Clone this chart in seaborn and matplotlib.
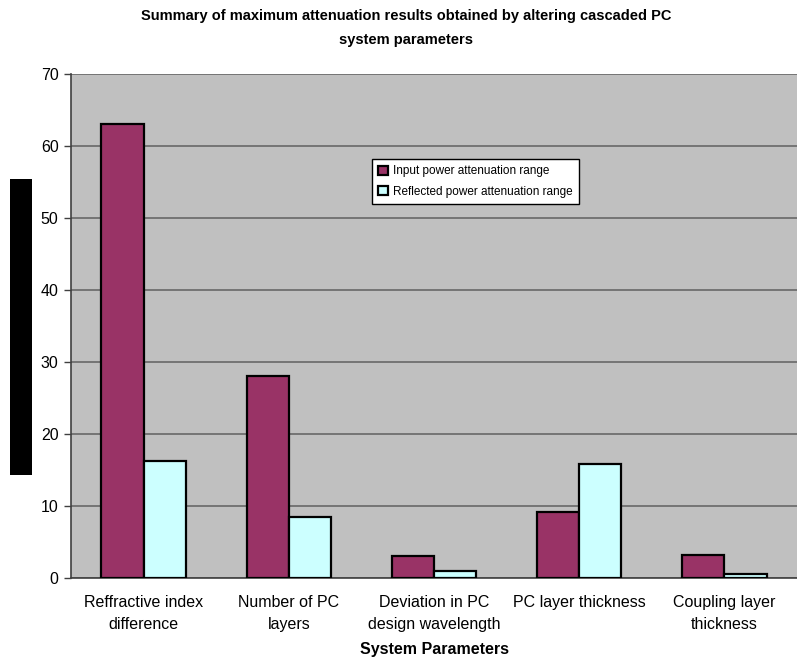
import matplotlib
matplotlib.use("Agg")
import matplotlib.pyplot as plt
from matplotlib.patches import Rectangle
import seaborn as sns
import pandas as pd

categories = [
    "Reffractive index\ndifference",
    "Number of PC\nlayers",
    "Deviation in PC\ndesign wavelength",
    "PC layer thickness",
    "Coupling layer\nthickness",
]
series_names = ["Input power attenuation range", "Reflected power attenuation range"]
input_power = [63.0, 28.0, 3.0, 9.1, 3.2]
reflected_power = [16.3, 8.5, 1.0, 15.8, 0.5]
y_ticks = [0, 10, 20, 30, 40, 50, 60, 70]

df = pd.DataFrame({
    "category": categories * 2,
    "series": [series_names[0]] * len(categories) + [series_names[1]] * len(categories),
    "value": input_power + reflected_power,
})

sns.set_theme(style="white")
plt.rcParams["font.family"] = ["Liberation Sans", "DejaVu Sans"]
plt.rcParams["text.color"] = "black"
plt.rcParams["xtick.color"] = "black"
plt.rcParams["ytick.color"] = "black"
plt.rcParams["axes.labelcolor"] = "black"

fig = plt.figure(figsize=(7.97, 6.63), dpi=100)
ax = fig.add_axes([71 / 797, 85 / 663, 726 / 797, 504 / 663])
ax.set_facecolor("#C0C0C0")

palette = {series_names[0]: "#993366", series_names[1]: "#CCFFFF"}
sns.barplot(data=df, x="category", y="value", hue="series", order=categories,
            hue_order=series_names, palette=palette, width=0.58,
            edgecolor="black", linewidth=1.6, saturation=1, ax=ax, zorder=3)

ax.set_xlim(-0.5, len(categories) - 0.5)
ax.set_ylim(0, 70)
ax.set_yticks(y_ticks)
ax.set_yticklabels([str(t) for t in y_ticks], fontsize=11.5)
ax.yaxis.grid(True, color="#606060", linewidth=1.1, zorder=0)
ax.set_axisbelow(True)

ax.set_xticks(range(len(categories)))
ax.set_xticklabels(categories, fontsize=11.5, linespacing=1.6)
ax.set_xticks([i + 0.5 for i in range(-1, len(categories) - 1)], minor=True)
ax.tick_params(axis="x", which="major", length=0, pad=12)
ax.tick_params(axis="x", which="minor", length=5, width=1, color="#404040", direction="out")
ax.tick_params(axis="y", which="major", length=5, width=1, color="#404040", direction="out",
               left=True, pad=4)

for side in ["top", "right"]:
    ax.spines[side].set_visible(False)
for side in ["left", "bottom"]:
    ax.spines[side].set_color("#404040")
    ax.spines[side].set_linewidth(1.2)

ax.set_ylabel("")
ax.set_xlabel("System Parameters", fontsize=11.5, fontweight="bold", labelpad=7)

leg = ax.legend(loc="upper left", bbox_to_anchor=((372 - 71) / 726, (578 - 159) / 504),
                borderaxespad=0, fontsize=8.5, frameon=True, fancybox=False,
                edgecolor="black", handlelength=0.8, handleheight=0.8,
                handletextpad=0.4, borderpad=0.55, labelspacing=0.7, title=None,
                framealpha=1)
leg.get_frame().set_linewidth(1.0)
leg.get_frame().set_facecolor("white")

fig.text(406 / 797, 1 - 28 / 663,
         "Summary of maximum attenuation results obtained by altering cascaded PC\nsystem parameters",
         ha="center", va="center", fontsize=10.5, fontweight="bold", linespacing=1.9)

# solid block at the left edge of the figure
fig.patches.append(Rectangle((10 / 797, 1 - 475 / 663), 22 / 797, 296 / 663,
                             transform=fig.transFigure, facecolor="black",
                             edgecolor="none"))

fig.savefig("out.png", dpi=100, facecolor="white")
